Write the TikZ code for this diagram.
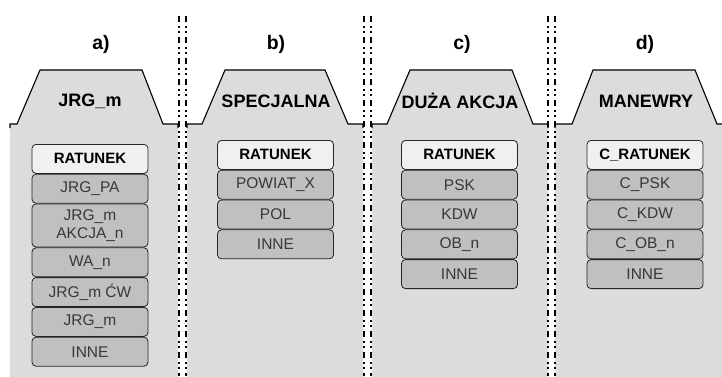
\documentclass[tikz,border=0pt]{standalone}
\usepackage{fontspec}
\setmainfont{Liberation Sans}
\usetikzlibrary{positioning}
\definecolor{panelgray}{HTML}{DCDCDC}
\definecolor{itemgray}{HTML}{C0C0C0}
\definecolor{itemwhite}{HTML}{F0F0F0}
\definecolor{itemtext}{HTML}{383838}
\tikzset{
  panelfill/.style={fill=panelgray,draw=none},
  paneledge/.style={draw=black,line width=1.1pt,line join=miter},
  sepline/.style={draw=black,line width=1.5pt,dash pattern=on 6pt off 4pt on 1.5pt off 3.5pt on 1.5pt off 4.5pt},
  itembox/.style={draw=black!85,line width=0.8pt,rounded corners=4pt,fill=itemgray,
    minimum width=116pt,minimum height=29pt,inner sep=1pt,text=itemtext,
    font=\fontsize{15.5}{15.5}\selectfont,align=center,anchor=north},
  topbox/.style={itembox,fill=itemwhite,text=black,font=\bfseries\fontsize{15}{15}\selectfont},
  tabtitle/.style={font=\bfseries\fontsize{18}{18}\selectfont},
  panellabel/.style={font=\bfseries\fontsize{19.5}{19.5}\selectfont},
}
\begin{document}
\begin{tikzpicture}[x=1pt,y=-1pt]
\useasboundingbox (0,0) rectangle (722,376);
\fill[white] (0,0) rectangle (722,376);
% panels
\foreach \L/\a/\b/\c/\d/\R in {10/17/40/142/163/178, 187/202/225/325/348/363, 372/387/410/512/533/548, 555/572/593/695/717/723}{
  \path[panelfill] (\L,377) -- (\L,124) -- (\a,124) -- (\b,70) -- (\c,70) -- (\d,124) -- (\R,124) -- (\R,377) -- cycle;
  \draw[paneledge] (\L,128) -- (\L,124) -- (\a,124) -- (\b,70) -- (\c,70) -- (\d,124) -- (\R,124) -- (\R,128);
}
% separators
\foreach \x in {179,186,364,371,548,555}{
  \coordinate (s\x t) at (\x,16);
  \coordinate (s\x b) at (\x,376);
  \draw[sepline] (s\x t) -- (s\x b);
}
% labels
\node[panellabel] (la) at (101,44) {a)};
\node[panellabel] (lb) at (276,44) {b)};
\node[panellabel] (lc) at (462,44) {c)};
\node[panellabel] (ld) at (645,44) {d)};
% tab titles
\node[tabtitle] (ta) at (90,101) {JRG\_m};
\node[tabtitle] (tb) at (276,101) {SPECJALNA};
\node[tabtitle] (tc) at (460,101) {DUŻA AKCJA};
\node[tabtitle] (td) at (646,101) {MANEWRY};
% panel a items
\node[topbox] (a1) at (90,144) {RATUNEK};
\node[itembox,below=0pt of a1] (a2) {JRG\_PA};
\node[itembox,below=0pt of a2,minimum height=43pt] (a3) {JRG\_m\\[3pt]AKCJA\_n};
\node[itembox,below=0pt of a3] (a4) {WA\_n};
\node[itembox,below=0pt of a4] (a5) {JRG\_m ĆW};
\node[itembox,below=0pt of a5] (a6) {JRG\_m};
\node[itembox,below=0pt of a6] (a7) {INNE};
% panel b items
\node[topbox] (b1) at (275.5,140) {RATUNEK};
\node[itembox,below=0pt of b1] (b2) {POWIAT\_X};
\node[itembox,below=0pt of b2] (b3) {POL};
\node[itembox,below=0pt of b3] (b4) {INNE};
% panel c items
\node[topbox] (c1) at (459.5,140) {RATUNEK};
\node[itembox,below=0pt of c1] (c2) {PSK};
\node[itembox,below=0pt of c2] (c3) {KDW};
\node[itembox,below=0pt of c3] (c4) {OB\_n};
\node[itembox,below=0pt of c4] (c5) {INNE};
% panel d items
\node[topbox] (d1) at (645,140) {C\_RATUNEK};
\node[itembox,below=0pt of d1] (d2) {C\_PSK};
\node[itembox,below=0pt of d2] (d3) {C\_KDW};
\node[itembox,below=0pt of d3] (d4) {C\_OB\_n};
\node[itembox,below=0pt of d4] (d5) {INNE};
\end{tikzpicture}
\end{document}
